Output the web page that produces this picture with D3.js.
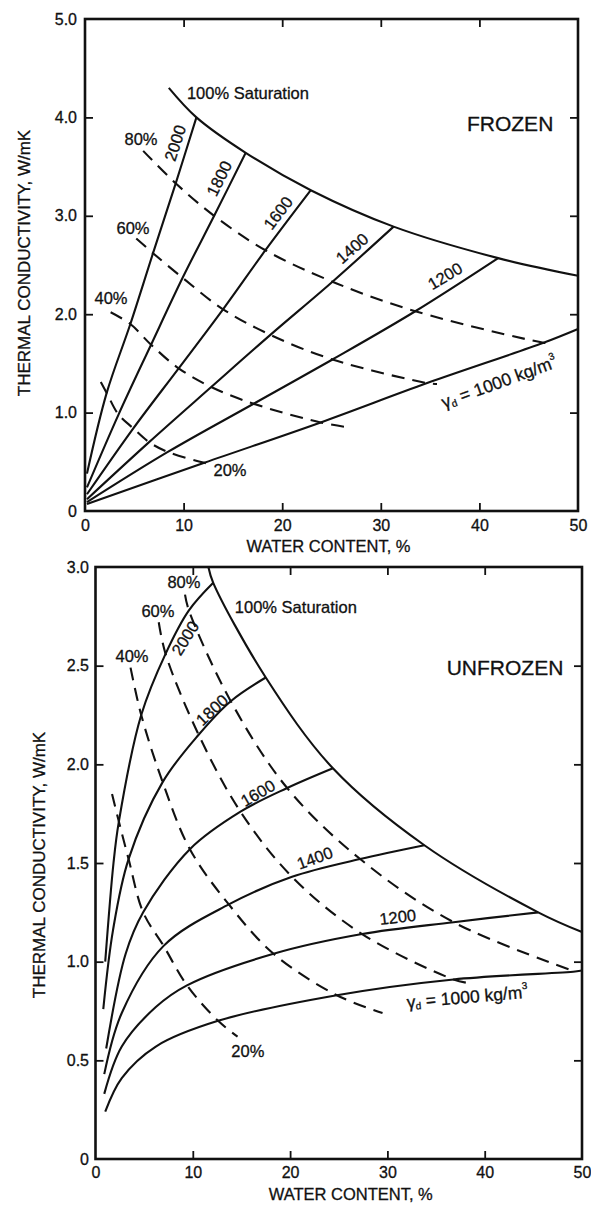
<!DOCTYPE html>
<html><head><meta charset="utf-8">
<script src="https://cdn.jsdelivr.net/npm/d3@7"></script>
<style>
body{margin:0;background:#fff}
svg{display:block}
text{font-family:"Liberation Sans",Arial,Helvetica,sans-serif;fill:#111;stroke:#111;stroke-width:0.3px}
</style>
</head><body>
<svg id="c" width="591" height="1206"></svg>
<script>
// ---------- DATA (water content %, thermal conductivity W/mK) ----------
const densities = [2000, 1800, 1600, 1400, 1200, 1000];
const saturations = ["20%", "40%", "60%", "80%"];
const xTicks = [0, 10, 20, 30, 40, 50];
const frozenYTicks = [0, 1, 2, 3, 4, 5];
const unfrozenYTicks = [0, 0.5, 1.0, 1.5, 2.0, 2.5, 3.0];

// FROZEN
const frozenSat100 = [[8.5,4.30],[11.3,4.0],[16.3,3.64],[22.9,3.26],[31.3,2.89],[41.9,2.57],[50,2.39]];
const frozen2000 = [[0.2,0.38],[2.2,1.20],[4.6,1.90],[6.9,2.62],[9.2,3.33],[11.3,4.0]];
const frozen1800 = [[0.2,0.24],[3.4,0.98],[6.7,1.69],[9.9,2.37],[13.1,3.0],[16.3,3.64]];
const frozen1600 = [[0.2,0.17],[4.9,0.84],[9.5,1.45],[14.0,2.05],[18.3,2.65],[22.9,3.26]];
const frozen1400 = [[0.2,0.12],[6.5,0.70],[12.8,1.26],[18.8,1.79],[25.1,2.33],[31.3,2.89]];
const frozen1200 = [[0.2,0.09],[8.4,0.60],[17.1,1.09],[25.1,1.54],[33.5,2.03],[41.9,2.57]];
const frozen1000 = [[0.2,0.07],[12.1,0.49],[23.9,0.90],[34.7,1.30],[46.5,1.71],[50,1.85]];
const frozen20 = [[1.6,1.31],[2.2,1.20],[3.4,0.98],[4.9,0.84],[6.5,0.70],[8.4,0.60],[12.1,0.49],[12.6,0.48]];
const frozen40 = [[2.6,2.02],[4.6,1.90],[6.7,1.69],[9.5,1.45],[12.8,1.26],[17.1,1.09],[23.9,0.90],[26.7,0.85]];
const frozen60 = [[5.2,2.77],[6.9,2.62],[9.9,2.37],[14.0,2.05],[18.8,1.79],[25.1,1.54],[34.7,1.30],[35.7,1.29]];
const frozen80 = [[5.9,3.66],[9.2,3.33],[13.1,3.0],[18.3,2.65],[25.1,2.33],[33.5,2.03],[46.5,1.71],[47.4,1.70]];

// UNFROZEN
const unfrozenSat100 = [[11.6,3.0],[12.1,2.92],[17.5,2.44],[24.4,1.98],[33.8,1.59],[45.5,1.25],[50,1.15]];
const unfrozen2000 = [[1.0,1.0],[1.85,1.50],[2.4,1.71],[4.7,2.25],[7.2,2.56],[9.6,2.78],[12.1,2.92]];
const unfrozen1800 = [[0.8,0.76],[1.8,1.16],[3.4,1.52],[6.9,1.91],[10.6,2.15],[13.9,2.32],[17.5,2.44]];
const unfrozen1600 = [[1.1,0.56],[3.1,1.04],[4.9,1.25],[9.7,1.57],[14.9,1.76],[19.7,1.88],[24.4,1.98]];
const unfrozen1400 = [[0.9,0.43],[2.7,0.74],[7.0,1.08],[13.7,1.29],[20.2,1.43],[27.2,1.52],[33.8,1.59]];
const unfrozen1200 = [[0.9,0.33],[2.7,0.57],[6.2,0.77],[9.4,0.88],[18.3,1.04],[27.4,1.14],[36.8,1.20],[45.5,1.25]];
const unfrozen1000 = [[1.0,0.24],[2.7,0.41],[6.2,0.57],[12.6,0.70],[24.8,0.83],[36.8,0.91],[49.3,0.95],[50,0.955]];
const unfrozen20 = [[1.7,1.85],[2.4,1.71],[3.4,1.52],[4.9,1.25],[7.0,1.08],[9.4,0.88],[12.6,0.70],[14.6,0.62]];
const unfrozen40 = [[3.6,2.49],[4.7,2.25],[6.9,1.91],[9.7,1.57],[13.7,1.29],[18.3,1.04],[24.8,0.83],[29.5,0.74]];
const unfrozen60 = [[6.5,2.72],[7.2,2.56],[10.6,2.15],[14.9,1.76],[20.2,1.43],[27.4,1.14],[36.8,0.91],[38.5,0.89]];
const unfrozen80 = [[9.2,2.86],[9.6,2.78],[13.9,2.32],[19.7,1.88],[27.2,1.52],[36.8,1.20],[49.3,0.95]];

// ---------- DRAWING ----------
const svg = d3.select("#c");
svg.append("rect").attr("width",591).attr("height",1206).attr("fill","#fff");

function panel(cfg){
  const x = d3.scaleLinear().domain([0,50]).range(cfg.xr);
  const y = d3.scaleLinear().domain([0,cfg.ymax]).range(cfg.yr);
  const g = svg.append("g");
  const [L,R] = cfg.xr, [B,T] = cfg.yr;
  const fmtY = v => v === 0 ? "0" : d3.format(".1f")(v);

  const ax = g.append("g").attr("transform",`translate(0,${B})`)
    .call(d3.axisBottom(x).tickValues(xTicks).tickSize(-8).tickPadding(cfg.xPad).tickFormat(d3.format("d")));
  const ay = g.append("g").attr("transform",`translate(${L},0)`)
    .call(d3.axisLeft(y).tickValues(cfg.yTicks).tickSize(-8).tickPadding(cfg.yPad).tickFormat(fmtY));
  const at = g.append("g").attr("transform",`translate(0,${T})`)
    .call(d3.axisTop(x).tickValues(xTicks.slice(1,-1)).tickSize(-8).tickFormat(""));
  const ar = g.append("g").attr("transform",`translate(${R},0)`)
    .call(d3.axisRight(y).tickValues(cfg.yTicks.slice(1,-1)).tickSize(-8).tickFormat(""));
  [ax,ay,at,ar].forEach(a=>{
    a.select(".domain").remove();
    a.selectAll("line").attr("stroke","#111").attr("stroke-width",1.8);
    a.selectAll("text").attr("font-size",16).attr("fill","#111")
      .style("font-family",'"Liberation Sans",Arial,sans-serif');
  });
  ax.selectAll(".tick").filter(d=>d===0||d===50).select("line").remove();
  ay.selectAll(".tick").filter(d=>d===0||d===cfg.ymax).select("line").remove();

  g.append("rect").attr("x",L).attr("y",T).attr("width",R-L).attr("height",B-T)
    .attr("fill","none").attr("stroke","#111").attr("stroke-width",2.6);

  const line = d3.line().x(d=>x(d[0])).y(d=>y(d[1])).curve(d3.curveCatmullRom.alpha(0.5));
  cfg.solid.forEach(s=>g.append("path").attr("d",line(s)).attr("fill","none")
    .attr("stroke","#111").attr("stroke-width",2.1).attr("stroke-linejoin","round"));
  cfg.dashed.forEach(s=>g.append("path").attr("d",line(s)).attr("fill","none")
    .attr("stroke","#111").attr("stroke-width",2.1).attr("stroke-dasharray","13,8"));

  cfg.dLabels.forEach((p,i)=>{
    const t = g.append("text").attr("font-size",16.5).attr("text-anchor","middle")
      .attr("dominant-baseline","central")
      .attr("transform",`translate(${x(p[0])},${y(p[1])}) rotate(${p[2]})`);
    if(densities[i]===1000){
      t.attr("font-size",17.5);
      t.append("tspan").text("γ");
      t.append("tspan").attr("font-size",10).attr("dy",4).text("d");
      t.append("tspan").attr("dy",-4).text(" = 1000 kg/m");
      t.append("tspan").attr("font-size",10).attr("dy",-7).text("3");
    } else t.text(densities[i]);
  });
  cfg.sLabels.forEach((p,i)=>{
    g.append("text").attr("font-size",16.5).attr("text-anchor","middle")
      .attr("dominant-baseline","central")
      .attr("x",x(p[0])).attr("y",y(p[1])).text(saturations[i]);
  });
  g.append("text").attr("font-size",16.5).attr("x",x(cfg.satPos[0])).attr("y",y(cfg.satPos[1]))
    .text("100% Saturation");
  g.append("text").attr("font-size",21).attr("x",x(cfg.titlePos[0])).attr("y",y(cfg.titlePos[1]))
    .text(cfg.title);
  g.append("text").attr("font-size",16.5).attr("text-anchor","middle")
    .attr("x",(L+R)/2+ cfg.xlOff).attr("y",cfg.xlY).text("WATER CONTENT, %");
  g.append("text").attr("font-size",17).attr("text-anchor","middle")
    .attr("transform",`translate(${cfg.ylX},${cfg.ylY}) rotate(-90)`)
    .text("THERMAL CONDUCTIVITY, W/mK");
}

panel({
  xr:[85,578], yr:[511,19], ymax:5, yTicks:frozenYTicks, xPad:9, yPad:8,
  solid:[frozenSat100,frozen2000,frozen1800,frozen1600,frozen1400,frozen1200,frozen1000],
  dashed:[frozen20,frozen40,frozen60,frozen80],
  dLabels:[[9.13,3.74,-72],[13.59,3.38,-64],[19.57,3.03,-53],[27.08,2.67,-41],[36.51,2.39,-31],[42.0,1.31,-20]],
  sLabels:[[14.71,0.42],[2.64,2.16],[4.87,2.88],[5.68,3.78]],
  satPos:[10.34,4.19], titlePos:[38.74,3.86], title:"FROZEN",
  xlOff:-3, xlY:552, ylX:30, ylY:263
});
panel({
  xr:[95.5,582], yr:[1159,567], ymax:3, yTicks:unfrozenYTicks, xPad:8, yPad:6.5,
  solid:[unfrozenSat100,unfrozen2000,unfrozen1800,unfrozen1600,unfrozen1400,unfrozen1200,unfrozen1000],
  dashed:[unfrozen20,unfrozen40,unfrozen60,unfrozen80],
  dLabels:[[9.2,2.64,-58],[11.96,2.276,-43],[16.68,1.855,-30],[22.54,1.526,-20],[31.06,1.227,-7],[38.2,0.821,-5]],
  sLabels:[[15.66,0.547],[3.75,2.549],[6.42,2.777],[9.09,2.924]],
  satPos:[14.32,2.767], titlePos:[36.09,2.453], title:"UNFROZEN",
  xlOff:12, xlY:1200, ylX:45, ylY:865
});
</script>
</body></html>
